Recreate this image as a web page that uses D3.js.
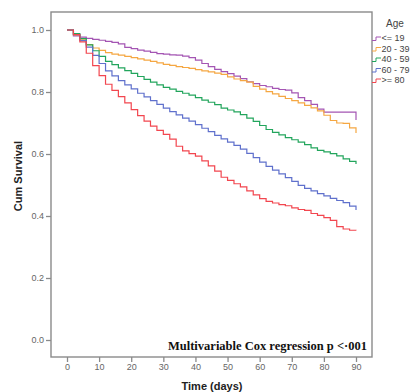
<!DOCTYPE html>
<html>
<head>
<meta charset="utf-8">
<script src="https://cdn.jsdelivr.net/npm/d3@7"></script>
<style>
  body { margin: 0; background: #fff; }
  svg { display: block; }
</style>
</head>
<body>
<div id="chart"></div>
<script>
const days = d3.range(0, 91, 2);

const ageGroups = ["<= 19", "20 - 39", "40 - 59", "60 - 79", ">= 80"];
const groupColors = ["#a455b3", "#f5a742", "#22a55c", "#5f70cc", "#f2464f"];

const survUnder19 = [1.000, 0.981, 0.977, 0.973, 0.970, 0.967, 0.963, 0.960, 0.955, 0.944,
  0.940, 0.935, 0.932, 0.928, 0.924, 0.922, 0.920, 0.919, 0.916, 0.911,
  0.903, 0.892, 0.882, 0.873, 0.866, 0.859, 0.851, 0.843, 0.833, 0.827,
  0.821, 0.817, 0.812, 0.808, 0.806, 0.797, 0.782, 0.772, 0.760, 0.745,
  0.735, 0.735, 0.735, 0.735, 0.735, 0.710];
const surv20to39 = [1.000, 0.984, 0.968, 0.953, 0.942, 0.934, 0.927, 0.922, 0.919, 0.915,
  0.911, 0.907, 0.903, 0.899, 0.894, 0.889, 0.886, 0.882, 0.879, 0.876,
  0.872, 0.868, 0.865, 0.861, 0.857, 0.849, 0.842, 0.837, 0.832, 0.818,
  0.809, 0.801, 0.794, 0.786, 0.779, 0.772, 0.765, 0.757, 0.749, 0.739,
  0.725, 0.708, 0.700, 0.699, 0.684, 0.668];
const surv40to59 = [1.000, 0.988, 0.972, 0.952, 0.933, 0.915, 0.899, 0.888, 0.878, 0.869,
  0.860, 0.850, 0.841, 0.832, 0.823, 0.815, 0.809, 0.802, 0.796, 0.790,
  0.782, 0.774, 0.767, 0.759, 0.748, 0.742, 0.736, 0.727, 0.716, 0.705,
  0.692, 0.679, 0.670, 0.662, 0.653, 0.646, 0.638, 0.630, 0.620, 0.612,
  0.607, 0.601, 0.594, 0.584, 0.576, 0.568];
const surv60to79 = [1.000, 0.985, 0.966, 0.945, 0.918, 0.892, 0.868, 0.852, 0.837, 0.823,
  0.810, 0.796, 0.784, 0.772, 0.760, 0.748, 0.737, 0.726, 0.716, 0.706,
  0.695, 0.683, 0.672, 0.660, 0.649, 0.638, 0.628, 0.616, 0.602, 0.588,
  0.574, 0.560, 0.548, 0.536, 0.524, 0.512, 0.499, 0.489, 0.481, 0.472,
  0.465, 0.457, 0.450, 0.443, 0.432, 0.419];
const surv80plus = [1.000, 0.985, 0.962, 0.925, 0.885, 0.853, 0.825, 0.805, 0.785, 0.765,
  0.743, 0.724, 0.706, 0.690, 0.676, 0.663, 0.648, 0.625, 0.610, 0.601,
  0.593, 0.578, 0.562, 0.545, 0.525, 0.515, 0.504, 0.494, 0.481, 0.468,
  0.456, 0.447, 0.442, 0.437, 0.433, 0.426, 0.421, 0.418, 0.408, 0.402,
  0.395, 0.386, 0.366, 0.358, 0.354, 0.353];

const seriesValues = [survUnder19, surv20to39, surv40to59, surv60to79, surv80plus];

const xTicks = d3.range(0, 91, 10);
const yTicks = [0, 0.2, 0.4, 0.6, 0.8, 1.0];

const width = 416, height = 392;
// plot frame
const frame = {left: 51, top: 12, right: 372, bottom: 357};

const x = d3.scaleLinear().domain([0, 90]).range([67, 356]);
const y = d3.scaleLinear().domain([0, 1]).range([340, 30]);

const svg = d3.select("#chart").append("svg")
    .attr("width", width)
    .attr("height", height);

svg.append("rect")
    .attr("x", frame.left)
    .attr("y", frame.top)
    .attr("width", frame.right - frame.left)
    .attr("height", frame.bottom - frame.top)
    .attr("fill", "none")
    .attr("stroke", "#8a8a8a")
    .attr("stroke-width", 1.4);

// Y axis
const yAxis = svg.append("g")
    .attr("transform", `translate(${frame.left},0)`)
    .call(d3.axisLeft(y).tickValues(yTicks).tickFormat(d3.format(".1f")).tickSize(5).tickPadding(2));
yAxis.select(".domain").remove();

// X axis
const xAxis = svg.append("g")
    .attr("transform", `translate(0,${frame.bottom})`)
    .call(d3.axisBottom(x).tickValues(xTicks).tickSize(5).tickPadding(2));
xAxis.select(".domain").remove();

svg.selectAll(".tick line").attr("stroke", "#8a8a8a").attr("stroke-width", 1.3);
svg.selectAll(".tick text")
    .attr("fill", "#666")
    .style("font-family", "Liberation Sans, Arial, sans-serif")
    .style("font-size", "9px");

// axis titles
svg.append("text")
    .attr("x", 212)
    .attr("y", 390)
    .attr("text-anchor", "middle")
    .style("font-family", "Liberation Sans, Arial, sans-serif")
    .style("font-weight", "bold")
    .style("font-size", "11px")
    .attr("fill", "#222")
    .text("Time (days)");

svg.append("text")
    .attr("transform", "translate(22,176) rotate(-90)")
    .attr("text-anchor", "middle")
    .style("font-family", "Liberation Sans, Arial, sans-serif")
    .style("font-weight", "bold")
    .style("font-size", "11px")
    .attr("fill", "#222")
    .text("Cum Survival");

// survival curves
const line = d3.line()
    .x((d, i) => x(days[i]))
    .y(d => y(d))
    .curve(d3.curveStepAfter);

svg.selectAll(".curve")
    .data(seriesValues)
    .join("path")
    .attr("class", "curve")
    .attr("fill", "none")
    .attr("stroke", (d, i) => groupColors[i])
    .attr("stroke-width", 1.2)
    .attr("d", line);

// annotation
svg.append("text")
    .attr("x", 367)
    .attr("y", 350)
    .attr("text-anchor", "end")
    .style("font-family", "Liberation Serif, Times New Roman, serif")
    .style("font-weight", "bold")
    .style("font-size", "12.5px")
    .attr("fill", "#111")
    .text("Multivariable Cox regression p <\u00b7001");

// legend
const legend = svg.append("g");
legend.append("text")
    .attr("x", 386)
    .attr("y", 27)
    .style("font-family", "Liberation Sans, Arial, sans-serif")
    .style("font-size", "10px")
    .attr("fill", "#444")
    .text("Age");

const entry = legend.selectAll(".entry")
    .data(ageGroups)
    .join("g")
    .attr("class", "entry")
    .attr("transform", (d, i) => `translate(372,${39 + i * 10.5})`);

entry.append("path")
    .attr("fill", "none")
    .attr("stroke", (d, i) => groupColors[i])
    .attr("stroke-width", 1)
    .attr("d", "M0,1.5H4V-2H9");

entry.append("text")
    .attr("x", 9.5)
    .attr("y", 2)
    .style("font-family", "Liberation Sans, Arial, sans-serif")
    .style("font-size", "9px")
    .attr("fill", "#444")
    .text(d => d);
</script>
</body>
</html>
